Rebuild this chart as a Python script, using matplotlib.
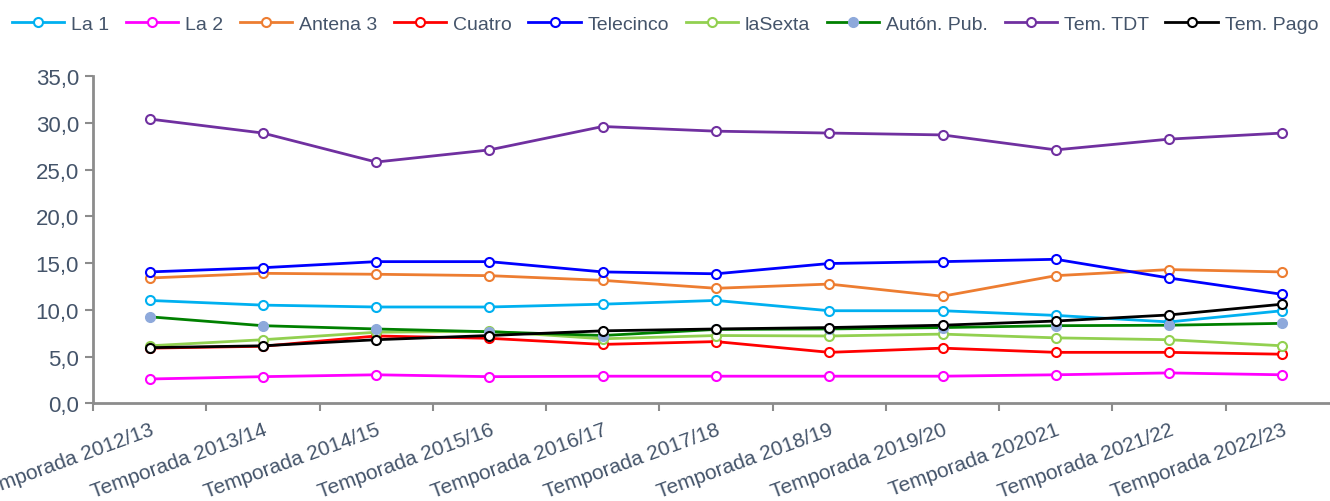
import matplotlib
matplotlib.use("Agg")
import matplotlib.pyplot as plt
from matplotlib.ticker import FuncFormatter

plt.rcParams['font.family'] = ['Liberation Sans', 'DejaVu Sans']

temporadas = ["Temporada 2012/13", "Temporada 2013/14", "Temporada 2014/15",
              "Temporada 2015/16", "Temporada 2016/17", "Temporada 2017/18",
              "Temporada 2018/19", "Temporada 2019/20", "Temporada 202021",
              "Temporada 2021/22", "Temporada 2022/23"]

la1 = [11.0, 10.5, 10.3, 10.3, 10.6, 11.0, 9.9, 9.9, 9.4, 8.7, 9.9]
la2 = [2.6, 2.85, 3.05, 2.85, 2.9, 2.9, 2.9, 2.9, 3.05, 3.25, 3.05]
antena3 = [13.4, 13.9, 13.8, 13.65, 13.15, 12.3, 12.75, 11.45, 13.65, 14.3, 14.05]
cuatro = [5.9, 6.1, 7.2, 6.95, 6.3, 6.6, 5.45, 5.9, 5.45, 5.45, 5.25]
telecinco = [14.05, 14.5, 15.15, 15.15, 14.05, 13.85, 14.95, 15.15, 15.4, 13.4, 11.65]
lasexta = [6.15, 6.8, 7.6, 7.7, 6.9, 7.25, 7.2, 7.4, 7.0, 6.8, 6.15]
auton = [9.25, 8.3, 7.95, 7.65, 7.25, 7.9, 7.95, 8.1, 8.3, 8.35, 8.55]
tem_tdt = [30.4, 28.9, 25.8, 27.1, 29.6, 29.1, 28.9, 28.7, 27.1, 28.25, 28.9]
tem_pago = [5.95, 6.15, 6.8, 7.25, 7.75, 7.95, 8.1, 8.35, 8.8, 9.45, 10.6]

series = [
    ("La 1", la1, "#00B0F0"),
    ("La 2", la2, "#FF00FF"),
    ("Antena 3", antena3, "#ED7D31"),
    ("Cuatro", cuatro, "#FF0000"),
    ("Telecinco", telecinco, "#0000FF"),
    ("laSexta", lasexta, "#92D050"),
    ("Autón. Pub.", auton, "#008000"),
    ("Tem. TDT", tem_tdt, "#7030A0"),
    ("Tem. Pago", tem_pago, "#000000"),
]

text_color = "#44546A"
axis_color = "#8C8C8C"

fig = plt.figure(figsize=(13.3, 5.02), dpi=100)
ax = fig.add_axes([0.0699, 0.1946, 0.9369, 0.652])

x = list(range(len(temporadas)))
for name, vals, col in series:
    if name == "Autón. Pub.":
        ax.plot(x, vals, color=col, lw=2.0, marker="o", ms=7,
                mfc="#8EA9DB", mec="#8EA9DB", label=name)
    else:
        ax.plot(x, vals, color=col, lw=2.0, marker="o", ms=6.5,
                mfc="white", mec=col, mew=1.5, label=name)

ax.set_xlim(-0.5, len(temporadas) - 0.5)
ax.set_ylim(0, 35)
ax.set_yticks(range(0, 36, 5))
ax.yaxis.set_major_formatter(FuncFormatter(lambda v, p: f"{v:.1f}".replace(".", ",")))
ax.set_xticks([i - 0.5 for i in range(len(temporadas) + 1)])
ax.set_xticklabels([])
ax.set_xticks(x, minor=True)
ax.set_xticklabels(temporadas, minor=True, rotation=20, ha="right",
                   rotation_mode="anchor", fontsize=15, color=text_color)
ax.tick_params(axis="x", which="minor", length=0, pad=12)
ax.tick_params(axis="x", which="major", length=6, width=1.5, color=axis_color)
ax.tick_params(axis="y", length=6, width=1.5, color=axis_color,
               labelsize=16, labelcolor=text_color, pad=4)

for s in ["top", "right"]:
    ax.spines[s].set_visible(False)
for s in ["left", "bottom"]:
    ax.spines[s].set_color(axis_color)
    ax.spines[s].set_linewidth(2)

fig.legend(loc="upper center", bbox_to_anchor=(0.5, 0.995), ncol=9,
           frameon=False, fontsize=14, handlelength=2.7, handletextpad=0.35,
           columnspacing=0.85, borderaxespad=0.3, labelcolor=text_color)

fig.savefig("out.png", dpi=100)
